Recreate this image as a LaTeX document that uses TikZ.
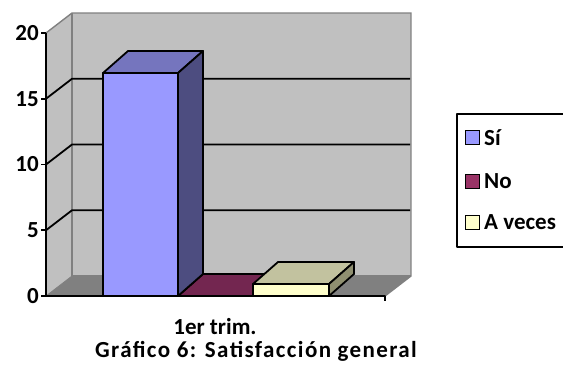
\documentclass[tikz,border=0pt]{standalone}
\usepackage{fontspec}
\setmainfont{Carlito}
\definecolor{WallGray}{RGB}{192,192,192}
\definecolor{FloorGray}{RGB}{128,128,128}
\definecolor{SiBlue}{RGB}{153,153,255}
\definecolor{SiTop}{RGB}{117,117,190}
\definecolor{SiSide}{RGB}{77,77,128}
\definecolor{NoRed}{RGB}{153,51,102}
\definecolor{NoDark}{RGB}{115,38,80}
\definecolor{VecesYellow}{RGB}{255,255,204}
\definecolor{VecesTop}{RGB}{194,194,159}
\definecolor{VecesSide}{RGB}{143,143,112}
\usetikzlibrary{positioning}

\begin{document}
\begin{tikzpicture}[x=1pt, y=-1pt,
    font=\bfseries\fontsize{23}{25}\selectfont,
    edgeline/.style={draw=FloorGray, line width=1.4pt},
    blackline/.style={draw=black, line width=1.8pt, line join=round},
    barface/.style={blackline},
    keybox/.style={draw=black, line width=1.6pt, minimum size=14pt, inner sep=0pt}]
    \useasboundingbox (0,0) rectangle (563,365);

    % Walls and floor
    \fill[WallGray] (72,13) rectangle (411,276);
    \fill[WallGray] (46,33) -- (72,13) -- (72,276) -- (46,296) -- cycle;
    \fill[FloorGray] (46,296) -- (72,276) -- (411,276) -- (385,296) -- cycle;
    \draw[edgeline] (46,33) -- (72,13) -- (411,13) -- (411,276) -- (385,296);
    \draw[edgeline] (72,13) -- (72,276) -- (411,276);
    \draw[edgeline, line width=0.8pt] (46,296) -- (72,276);

    % Gridlines
    \foreach \v in {5,10,15} {
        \pgfmathsetmacro{\yf}{296-13.15*\v}
        \draw[blackline] (46,\yf) -- (72,\yf-20) -- (410,\yf-20);
    }

    % Axes
    \draw[blackline] (46,33) -- (46,296) -- (385,296) -- (385,301);
    \foreach \v in {0,5,10,15,20} {
        \pgfmathsetmacro{\yf}{296-13.15*\v}
        \draw[blackline] (41,\yf) -- (46,\yf);
        \node[anchor=east, inner sep=1pt] (tick\v) at (40,\yf) {\v};
    }

    % No (zero)
    \filldraw[barface, fill=NoDark] (178,296) -- (203,274) -- (278,274) -- (253,296) -- cycle;

    % A veces
    \filldraw[barface, fill=VecesYellow] (253,284) rectangle (329,296);
    \filldraw[barface, fill=VecesTop] (253,284) -- (278,262) -- (354,262) -- (329,284) -- cycle;
    \filldraw[barface, fill=VecesSide] (329,284) -- (354,262) -- (354,274) -- (329,296) -- cycle;

    % Si
    \filldraw[barface, fill=SiBlue] (103,73) rectangle (178,296);
    \filldraw[barface, fill=SiTop] (103,73) -- (128,51) -- (203,51) -- (178,73) -- cycle;
    \filldraw[barface, fill=SiSide] (178,73) -- (203,51) -- (203,274) -- (178,296) -- cycle;

    % Category and title
    \node[inner sep=0pt] (trim) at (215,327) {1er trim.};
    \node[inner sep=0pt] (titulo) at (256,351) {\addfontfeature{LetterSpace=6}Gráfico 6: Satisfacción general};

    % Legend
    \draw[blackline] (457,114) rectangle (575,247);
    \node[keybox, fill=SiBlue] (keysi) at (472.5,137.5) {};
    \node[keybox, fill=NoRed] (keyno) at (472.5,181.5) {};
    \node[keybox, fill=VecesYellow] (keyveces) at (472.5,222.5) {};
    \node[anchor=west, inner sep=0pt] (labsi) at (484,137.5) {Sí};
    \node[anchor=west, inner sep=0pt] (labno) at (484,181.5) {No};
    \node[anchor=west, inner sep=0pt] (labveces) at (484,222.5) {A veces};
\end{tikzpicture}
\end{document}
